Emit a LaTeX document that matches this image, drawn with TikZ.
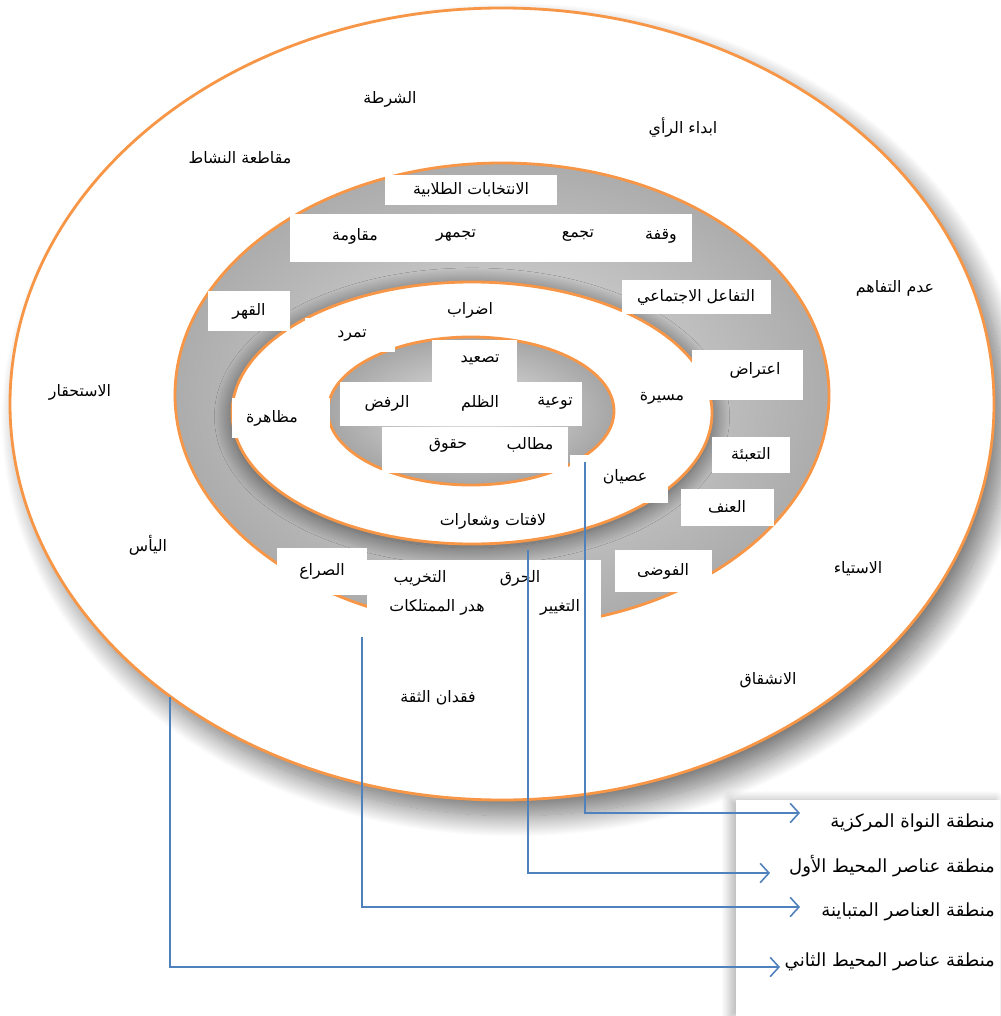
\documentclass[tikz,border=0pt]{standalone}
\usepackage{fontspec}
\usepackage{tikz}
\usetikzlibrary{arrows.meta,positioning,shadows.blur}
\TeXXeTstate=1
\newfontfamily\arabicfont[Script=Arabic]{DejaVu Sans}
\definecolor{ringorange}{RGB}{247,150,70}
\definecolor{linkblue}{RGB}{79,129,189}
\tikzstyle{ring}=[draw=ringorange,line width=1.6pt]
\tikzstyle{box}=[fill=white,inner sep=0pt]
\tikzstyle{word}=[font=\arabicfont\small,inner sep=1pt]
\tikzstyle{legendword}=[font=\arabicfont\fontsize{10.3}{12}\selectfont,inner sep=1pt,anchor=east]
\tikzstyle{link}=[draw=linkblue,line width=0.9pt,-{Straight Barb[length=5pt,width=11pt]}]

\begin{document}
\begin{tikzpicture}[x=0.02cm,y=-0.02cm]
  \useasboundingbox (0,0) rectangle (1000,1016);
  % rings
  \path[fill=white,ring,blur shadow={shadow xshift=7pt,shadow yshift=-9pt,shadow blur radius=12pt,shadow blur steps=30,shadow opacity=55}]
    (502,404) ellipse [x radius=492,y radius=396];
  \path[ring,inner color=gray!25,outer color=gray!65] (502,395) ellipse [x radius=327,y radius=232];
  \path[fill=white,ring,blur shadow={shadow xshift=0pt,shadow yshift=-2pt,shadow blur radius=10pt,shadow blur steps=30,shadow opacity=60}]
    (472,413) ellipse [x radius=240,y radius=131];
  \path[ring,inner color=gray!20,outer color=gray!70] (471,411) ellipse [x radius=143,y radius=74];

  % outer ring
  \node[word] (shurta)  at (390,99)  {\beginR الشرطة\endR};
  \node[word] (ray)     at (683,128) {\beginR ابداء الرأي\endR};
  \node[word] (muqataa) at (240,158) {\beginR مقاطعة النشاط\endR};
  \node[word] (tafahum) at (895,288) {\beginR عدم التفاهم\endR};
  \node[word] (istihqar) at (80,392) {\beginR الاستحقار\endR};
  \node[word] (yaas)    at (148,545) {\beginR اليأس\endR};
  \node[word] (istiyaa) at (858,569) {\beginR الاستياء\endR};
  \node[word] (inshiqaq) at (768,680) {\beginR الانشقاق\endR};
  \node[word] (thiqa)   at (438,698) {\beginR فقدان الثقة\endR};

  % first periphery (gray ring)
  \node[box,minimum width=3.44cm,minimum height=0.6cm] (intikhabat) at (471,190) {};
  \node[word] at (intikhabat) {\beginR الانتخابات الطلابية\endR};
  \node[box,minimum width=8.06cm,minimum height=0.96cm] (rowbox) at (491,238) {};
  \node[word] (waqfa)    at (661,236) {\beginR وقفة\endR};
  \node[word] (tajammu)  at (578,236) {\beginR تجمع\endR};
  \node[word] (tajamhur) at (456,236) {\beginR تجمهر\endR};
  \node[word] (muqawama) at (355,236) {\beginR مقاومة\endR};
  \node[box,minimum width=1.64cm,minimum height=0.82cm] (qahr) at (249,311) {};
  \node[word] at (qahr) {\beginR القهر\endR};
  \node[box,minimum width=2.98cm,minimum height=0.7cm] (tafaul) at (696,297) {};
  \node[word] at (tafaul) {\beginR التفاعل الاجتماعي\endR};
  \node[box,minimum width=2.22cm,minimum height=1cm] (itirad) at (747,375) {};
  \node[word] at (755,370) {\beginR اعتراض\endR};
  \node[box,minimum width=1.56cm,minimum height=0.72cm] (tabia) at (751,455) {};
  \node[word] at (tabia) {\beginR التعبئة\endR};
  \node[box,minimum width=1.86cm,minimum height=0.74cm] (unf) at (727,507) {};
  \node[word] at (unf) {\beginR العنف\endR};
  \node[box,minimum width=1.94cm,minimum height=0.84cm] (fawda) at (663,571) {};
  \node[word] at (fawda) {\beginR الفوضى\endR};
  \node[box,minimum width=1.8cm,minimum height=0.94cm] (sira) at (322,571) {};
  \node[word] at (sira) {\beginR الصراع\endR};
  \node[box,minimum width=4.7cm,minimum height=1.54cm] (damage) at (484,598) {};
  \node[word] (harq)    at (520,578) {\beginR الحرق\endR};
  \node[word] (takhrib) at (420,578) {\beginR التخريب\endR};
  \node[word] (hadr)    at (437,607) {\beginR هدر الممتلكات\endR};
  \node[word] (taghyir) at (560,607) {\beginR التغيير\endR};

  % white ring
  \node[box,minimum width=1.8cm,minimum height=0.68cm] (tamarrudbox) at (350,335) {};
  \node[box,minimum width=1.96cm,minimum height=0.82cm] (muzaharabox) at (281,418) {};
  \node[box,minimum width=1.96cm,minimum height=0.96cm] (isyanbox) at (619,479) {};
  \node[word] (idrab)    at (470,310) {\beginR اضراب\endR};
  \node[word] (tamarrud) at (352,336) {\beginR تمرد\endR};
  \node[word] (muzahara) at (272,418) {\beginR مظاهرة\endR};
  \node[word] (masira)   at (662,398) {\beginR مسيرة\endR};
  \node[word] (isyan)    at (625,477) {\beginR عصيان\endR};
  \node[word] (lafitat)  at (493,521) {\beginR لافتات وشعارات\endR};

  % core
  \node[box,minimum width=1.7cm,minimum height=0.84cm] (tasid) at (474,361) {};
  \node[word] at (480,360) {\beginR تصعيد\endR};
  \node[box,minimum width=4.86cm,minimum height=0.9cm] (corerow) at (461,404) {};
  \node[box,minimum width=3.72cm,minimum height=0.92cm] (corelow) at (475,450) {};
  \node[word] (tawiya) at (555,403) {\beginR توعية\endR};
  \node[word] (zulm)   at (480,403) {\beginR الظلم\endR};
  \node[word] (rafd)   at (387,403) {\beginR الرفض\endR};
  \node[word] (matalib) at (530,445) {\beginR مطالب\endR};
  \node[word] (huquq)   at (448,445) {\beginR حقوق\endR};

  % legend
  \node[fill=white,inner sep=0pt,minimum width=5.3cm,minimum height=4.34cm,
    blur shadow={shadow xshift=-3pt,shadow yshift=0pt,shadow blur radius=5pt,shadow blur steps=20,shadow opacity=30}] (legend) at (868,908) {};
  \node[legendword] (lcore)  at (997,823) {\beginR منطقة النواة المركزية\endR};
  \node[legendword] (lfirst) at (997,866) {\beginR منطقة عناصر المحيط الأول\endR};
  \node[legendword] (lmixed) at (997,912) {\beginR منطقة العناصر المتباينة\endR};
  \node[legendword] (lsecond) at (997,962) {\beginR منطقة عناصر المحيط الثاني\endR};

  \coordinate (srccore)   at (585,462);
  \coordinate (srcfirst)  at (528,550);
  \coordinate (srcmixed)  at (362,637);
  \coordinate (srcsecond) at (170,697);
  \coordinate (tipcore)   at (800,813);
  \coordinate (tipfirst)  at (770,873);
  \coordinate (tipmixed)  at (800,907);
  \coordinate (tipsecond) at (780,967);
  \draw[link] (srccore) |- (tipcore);
  \draw[link] (srcfirst) |- (tipfirst);
  \draw[link] (srcmixed) |- (tipmixed);
  \draw[link] (srcsecond) |- (tipsecond);
\end{tikzpicture}
\end{document}
